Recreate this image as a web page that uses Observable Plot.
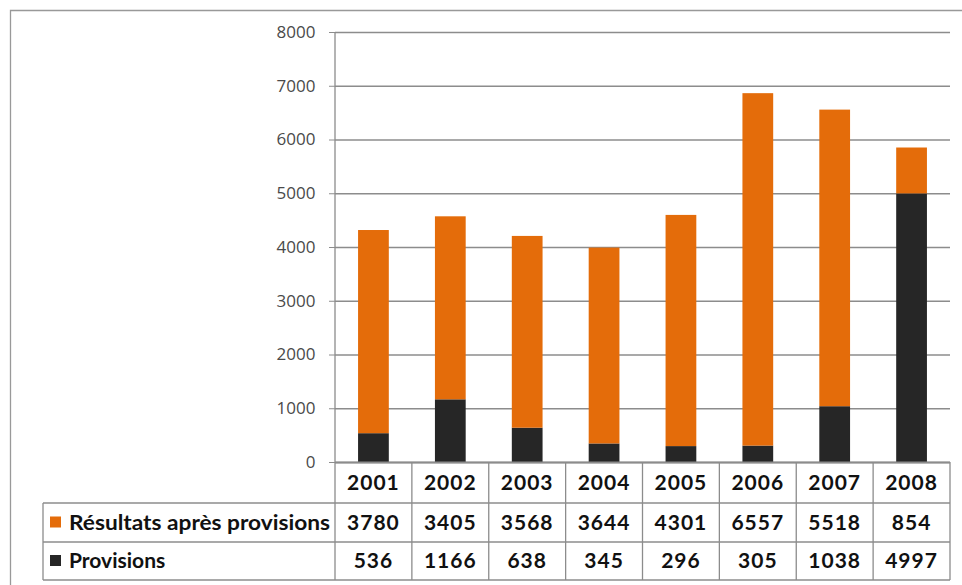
<!DOCTYPE html>
<html><head><meta charset="utf-8">
<script src="https://cdn.jsdelivr.net/npm/d3@7"></script>
<script src="https://cdn.jsdelivr.net/npm/@observablehq/plot@0.6"></script>
<style>
html,body{margin:0;padding:0;background:#fff;}
#chart{width:962px;height:585px;overflow:hidden;}
</style></head>
<body><div id="chart"></div>
<script>
const years = ["2001","2002","2003","2004","2005","2006","2007","2008"];
const resultats = [3780,3405,3568,3644,4301,6557,5518,854];
const provisions = [536,1166,638,345,296,305,1038,4997];
const seriesNames = ["Résultats après provisions","Provisions"];
const seriesColors = ["#E46C0A","#262626"];
const yTicks = [0,1000,2000,3000,4000,5000,6000,7000,8000];

const data = years.flatMap((yr,i)=>[
  {year:yr, series:"Provisions", value:provisions[i]},
  {year:yr, series:"Résultats après provisions", value:resultats[i]}
]);

const plot = Plot.plot({
  width:962, height:585,
  marginLeft:335, marginRight:12, marginTop:32, marginBottom:123,
  style:{fontFamily:"'Open Sans', sans-serif", background:"#fff"},
  x:{domain:years, paddingInner:0.6, paddingOuter:0.3, round:false, axis:null},
  y:{domain:[0,8000], axis:null},
  color:{domain:seriesNames, range:seriesColors},
  marks:[
    Plot.gridY(yTicks,{stroke:"#8c8c8c", strokeOpacity:1, strokeWidth:1.3}),
    Plot.axisY(yTicks,{tickSize:6, tickPadding:14, tickFormat:d=>String(d), fontSize:17, fill:"#4a4a4a", stroke:"#8c8c8c", strokeOpacity:1, label:null}),
    Plot.barY(data,{x:"year", y:"value", fill:"series"}),
    Plot.ruleY([0],{stroke:"#8c8c8c", strokeWidth:2})
  ]
});
document.getElementById("chart").appendChild(plot);

const svg = d3.select(plot);
const xs = plot.scale("x"), ys = plot.scale("y");
const x0 = xs.range[0], x1 = xs.range[1];
const step = xs.step, bw = xs.bandwidth;
const yTop = ys.apply(8000), yBase = ys.apply(0);
const rowH = [41,39,38];
const r0 = yBase, r1 = r0+rowH[0], r2 = r1+rowH[1], r3 = r2+rowH[2];
const tableLeft = 43;
const lineColor = "#8c8c8c";
const g = svg.append("g").attr("stroke",lineColor).attr("stroke-width",1.3).attr("fill","none");
g.append("path").attr("d",`M10.5,585V10.5H962`).attr("stroke","#999");
g.append("line").attr("x1",x0).attr("x2",x0).attr("y1",yTop).attr("y2",r3);
[r1,r2,r3].forEach(yy=>g.append("line").attr("x1",tableLeft).attr("x2",x1).attr("y1",yy).attr("y2",yy));
g.append("line").attr("x1",tableLeft).attr("x2",tableLeft).attr("y1",r1).attr("y2",r3);
years.forEach(yr=>{
  const right = xs.apply(yr) - (step-bw)/2 + step;
  g.append("line").attr("x1",right).attr("x2",right).attr("y1",r0).attr("y2",r3);
});
const tg = svg.append("g").attr("font-family","Lato, sans-serif").attr("font-weight","bold").attr("font-size",21).attr("fill","#111");
const rowsVals = [years, resultats, provisions];
const rowMid = [(r0+r1)/2, (r1+r2)/2, (r2+r3)/2];
rowsVals.forEach((vals,ri)=>{
  years.forEach((yr,i)=>{
    tg.append("text").attr("x",xs.apply(yr)+bw/2).attr("y",rowMid[ri]).attr("dy","0.35em")
      .attr("text-anchor","middle").attr("letter-spacing","1").text(String(vals[i]));
  });
});
seriesNames.forEach((nm,i)=>{
  const my = rowMid[i+1];
  svg.append("rect").attr("x",50).attr("y",my-6).attr("width",11).attr("height",11).attr("fill",seriesColors[i]);
  const t = tg.append("text").attr("x",69).attr("y",my).attr("dy","0.35em").attr("text-anchor","start").text(nm);
  if (i===0) t.attr("textLength",261).attr("lengthAdjust","spacingAndGlyphs");
});
</script></body></html>
